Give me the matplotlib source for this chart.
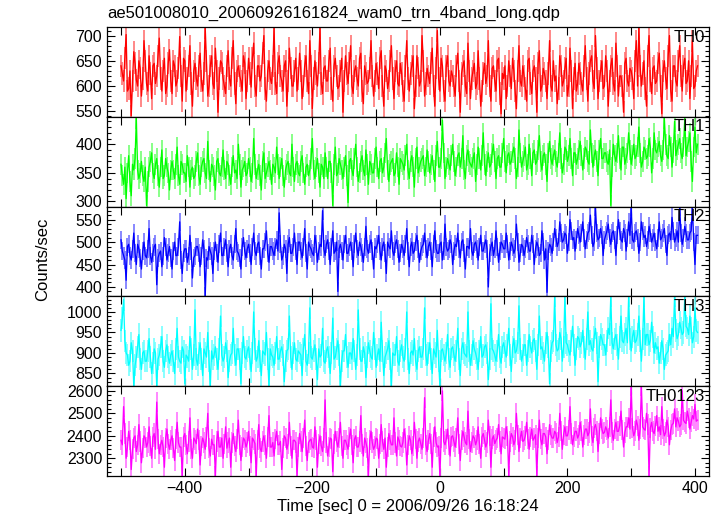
import numpy as np
import matplotlib
matplotlib.use("Agg")
import matplotlib.pyplot as plt
from matplotlib.ticker import MultipleLocator, FuncFormatter

plt.rcParams['font.family'] = ['Liberation Sans', 'DejaVu Sans']

TITLE = "ae501008010_20060926161824_wam0_trn_4band_long.qdp"
XLABEL = "Time [sec] 0 = 2006/09/26 16:18:24"
YLABEL = "Counts/sec"
T_START = -500
T_STEP = 4          # samples of the "a" lists are at T_START + 4*i, "b" lists at T_START + 2 + 4*i

names = ["TH0", "TH1", "TH2", "TH3", "TH0123"]
colors = ["#ff0000", "#00ff00", "#0000ff", "#00ffff", "#ff00ff"]
ylims = [(539, 717), (291, 448), (379, 579), (819, 1038), (2221, 2621)]
ymajor = [50, 50, 50, 50, 100]
yminor = [10, 10, 10, 10, 20]
errs = [22, 18, 20, 27, 45]

th0_a = [
    640, 610, 702, 595, 541, 668, 612, 650, 580, 690,
    605, 660, 575, 645, 620, 695, 590, 655, 600, 672,
    585, 640, 610, 698, 570, 650, 615, 680, 560, 645,
    600, 665, 590, 716, 580, 640, 605, 675, 548, 650,
    615, 585, 670, 600, 690, 565, 640, 610, 660, 575,
    655, 598, 685, 580, 640, 620, 700, 570, 650, 605,
    716, 585, 660, 610, 640, 560, 675, 600, 630, 590,
    665, 575, 640, 610, 690, 555, 650, 600, 716, 585,
    640, 610, 675, 570, 655, 595, 630, 548, 660, 605,
    680, 585, 640, 600, 665, 565, 625, 610, 690, 580,
    645, 595, 670, 560, 630, 610, 680, 575, 650, 600,
    625, 570, 690, 590, 640, 555, 660, 600, 700, 580,
    635, 605, 675, 560, 710, 590, 640, 570, 660, 600,
    620, 580, 665, 548, 640, 600, 685, 575, 630, 595,
    670, 560, 625, 605, 690, 570, 640, 590, 655, 545,
    615, 575, 650, 595, 630, 555, 680, 600, 620, 570,
    655, 585, 640, 548, 670, 600, 625, 575, 690, 590,
    610, 565, 660, 600, 635, 580, 675, 555, 645, 605,
    625, 590, 680, 570, 650, 610, 700, 575, 630, 595,
    660, 560, 640, 605, 685, 580, 620, 548, 655, 600,
    630, 575, 690, 716, 600, 650, 560, 700, 585, 640,
    610, 665, 545, 650, 595, 700, 570, 640, 600, 680,
    590, 655, 610, 575, 690, 600, 640,
]
th0_b = [
    625, 655, 590, 630, 610, 645, 600, 635, 615, 650,
    590, 625, 640, 605, 660, 615, 630, 585, 645, 610,
    650, 600, 635, 620, 655, 590, 640, 605, 630, 615,
    640, 610, 625, 650, 600, 660, 595, 630, 615, 645,
    600, 640, 615, 655, 605, 630, 620, 590, 645, 610,
    625, 655, 600, 640, 610, 665, 595, 630, 615, 640,
    605, 645, 620, 590, 650, 610, 635, 600, 655, 615,
    630, 600, 660, 585, 640, 615, 625, 645, 605, 635,
    610, 650, 595, 640, 620, 600, 655, 610, 625, 645,
    600, 630, 615, 655, 590, 640, 605, 635, 620, 610,
    625, 655, 600, 640, 595, 650, 615, 630, 605, 645,
    590, 640, 615, 625, 660, 600, 635, 610, 650, 605,
    620, 645, 600, 635, 615, 655, 590, 640, 610, 630,
    600, 640, 610, 625, 650, 585, 630, 615, 645, 605,
    615, 590, 645, 620, 600, 635, 610, 650, 585, 625,
    640, 600, 620, 655, 590, 630, 610, 640, 595, 650,
    605, 630, 615, 645, 590, 635, 610, 625, 600, 650,
    620, 595, 640, 610, 655, 600, 630, 615, 590, 645,
    605, 640, 615, 625, 660, 595, 635, 610, 650, 600,
    630, 610, 655, 590, 640, 620, 600, 645, 610, 635,
    615, 650, 600, 640, 625, 595, 660, 610, 635, 605,
    645, 600, 630, 615, 660, 590, 640, 610, 650, 620,
    640, 605, 650, 620, 595, 630,
]

th1_a = [
    365, 330, 305, 380, 310, 355, 445, 340, 370, 335,
    293, 360, 385, 340, 375, 325, 390, 345, 360, 320,
    370, 340, 395, 330, 365, 350, 380, 325, 360, 345,
    385, 330, 370, 350, 405, 335, 360, 320, 375, 345,
    390, 340, 365, 330, 380, 355, 400, 325, 360, 345,
    375, 335, 410, 340, 365, 320, 385, 350, 370, 330,
    360, 395, 340, 375, 325, 365, 350, 400, 335, 370,
    345, 380, 330, 365, 355, 410, 340, 375, 325, 360,
    385, 340, 370, 293, 395, 350, 365, 340, 380, 298,
    375, 345, 400, 335, 370, 355, 390, 330, 365, 350,
    395, 340, 375, 360, 410, 335, 370, 345, 385, 330,
    370, 355, 400, 340, 380, 325, 395, 360, 375, 345,
    390, 350, 380, 335, 405, 360, 442, 340, 375, 355,
    400, 345, 380, 360, 415, 340, 390, 365, 375, 335,
    395, 355, 420, 345, 385, 365, 400, 340, 380, 360,
    410, 350, 385, 370, 395, 340, 425, 360, 380, 355,
    400, 345, 390, 370, 415, 355, 385, 335, 405, 365,
    390, 360, 420, 350, 395, 370, 410, 345, 385, 375,
    405, 355, 395, 370, 425, 360, 390, 345, 410, 375,
    385, 365, 293, 400, 370, 415, 355, 395, 375, 420,
    365, 400, 380, 430, 360, 395, 375, 410, 350, 420,
    385, 405, 370, 445, 380, 415, 360, 440, 390, 410,
    375, 445, 395, 420, 335, 430, 400,
]
th1_b = [
    345, 360, 350, 335, 365, 375, 355, 350, 345, 360,
    335, 370, 350, 365, 345, 360, 340, 375, 350, 355,
    355, 365, 345, 370, 350, 335, 360, 355, 340, 370,
    345, 360, 375, 340, 355, 365, 345, 370, 350, 360,
    355, 370, 345, 360, 350, 340, 365, 355, 370, 350,
    360, 350, 365, 355, 345, 370, 340, 360, 355, 365,
    350, 365, 360, 345, 355, 370, 345, 360, 365, 350,
    370, 350, 360, 345, 375, 355, 360, 350, 365, 340,
    360, 370, 350, 365, 345, 375, 355, 360, 345, 370,
    355, 375, 360, 350, 380, 345, 365, 370, 350, 375,
    360, 370, 350, 385, 355, 365, 375, 350, 360, 375,
    365, 380, 355, 370, 360, 375, 350, 370, 380, 360,
    370, 365, 355, 380, 360, 375, 385, 360, 365, 380,
    370, 360, 385, 375, 355, 380, 370, 360, 385, 365,
    375, 380, 365, 370, 360, 385, 370, 375, 360, 385,
    370, 380, 365, 385, 375, 360, 385, 370, 395, 365,
    375, 385, 365, 390, 370, 380, 365, 385, 375, 380,
    370, 385, 375, 365, 390, 380, 375, 385, 365, 390,
    380, 375, 390, 365, 385, 380, 370, 390, 375, 385,
    370, 390, 360, 380, 385, 375, 395, 365, 385, 390,
    380, 375, 395, 385, 370, 390, 380, 395, 375, 390,
    395, 380, 390, 400, 375, 395, 385, 380, 400, 385,
    395, 380, 405, 370, 395, 385,
]

th2_a = [
    505, 470, 415, 495, 460, 520, 450, 485, 440, 500,
    465, 530, 455, 490, 405, 475, 445, 510, 460, 490,
    440, 500, 470, 545, 430, 485, 455, 515, 420, 470,
    490, 445, 505, 380, 460, 480, 430, 500, 455, 520,
    470, 505, 445, 495, 460, 530, 475, 440, 510, 465,
    495, 450, 520, 470, 500, 440, 485, 525, 455, 490,
    470, 505, 565, 460, 495, 430, 510, 475, 520, 450,
    500, 465, 530, 440, 490, 475, 515, 455, 495, 570,
    470, 505, 450, 525, 480, 390, 495, 460, 515, 475,
    500, 445, 520, 470, 490, 455, 535, 475, 505, 440,
    485, 515, 460, 500, 430, 490, 525, 470, 505, 455,
    495, 470, 530, 445, 500, 480, 515, 455, 490, 520,
    465, 500, 445, 525, 475, 495, 460, 540, 480, 505,
    450, 495, 520, 465, 505, 440, 490, 530, 470, 500,
    460, 515, 480, 505, 400, 490, 470, 525, 455, 500,
    485, 520, 460, 500, 475, 540, 455, 495, 470, 510,
    480, 515, 450, 500, 470, 525, 460, 388, 495, 475,
    530, 490, 545, 500, 520, 475, 550, 505, 480, 530,
    500, 545, 485, 520, 560, 490, 578, 505, 530, 470,
    515, 540, 495, 525, 470, 550, 505, 530, 480, 545,
    578, 500, 525, 475, 545, 510, 490, 535, 500, 520,
    485, 545, 510, 530, 470, 520, 555, 500, 525, 578,
    495, 535, 505, 520, 578, 450, 515,
]
th2_b = [
    480, 460, 490, 470, 485, 475, 495, 465, 480, 470,
    485, 470, 475, 495, 465, 480, 470, 490, 475, 465,
    480, 470, 490, 460, 475, 485, 470, 480, 465, 490,
    475, 470, 485, 465, 490, 470, 480, 475, 495, 470,
    490, 475, 485, 470, 495, 480, 465, 490, 480, 485,
    475, 490, 480, 495, 470, 485, 500, 475, 490, 480,
    490, 480, 495, 470, 485, 495, 475, 490, 480, 500,
    480, 490, 475, 500, 485, 470, 495, 480, 490, 485,
    495, 480, 490, 475, 500, 485, 480, 495, 475, 490,
    480, 495, 485, 500, 475, 490, 485, 495, 480, 490,
    495, 480, 490, 475, 500, 485, 480, 495, 485, 475,
    485, 495, 480, 490, 475, 500, 485, 480, 495, 485,
    490, 480, 495, 485, 475, 500, 480, 490, 485, 495,
    480, 490, 485, 500, 475, 490, 485, 480, 495, 485,
    490, 480, 495, 485, 475, 500, 485, 490, 480, 495,
    485, 495, 480, 490, 485, 500, 475, 490, 485, 495,
    480, 495, 485, 490, 475, 500, 485, 480, 490, 500,
    510, 500, 520, 505, 515, 500, 525, 510, 505, 515,
    520, 510, 505, 525, 515, 500, 520, 510, 515, 505,
    525, 510, 520, 505, 515, 525, 500, 520, 510, 515,
    505, 520, 510, 500, 525, 515, 505, 520, 510, 500,
    510, 505, 520, 495, 515, 505, 525, 510, 500, 520,
    510, 520, 505, 525, 500, 515,
]

th3_a = [
    955, 1030, 900, 870, 925, 819, 890, 945, 860, 905,
    880, 935, 850, 910, 819, 895, 940, 865, 920, 875,
    905, 850, 960, 880, 915, 825, 890, 940, 860, 1005,
    870, 925, 845, 900, 950, 819, 885, 915, 860, 990,
    880, 925, 840, 895, 960, 870, 910, 825, 940, 885,
    915, 855, 1000, 880, 930, 845, 900, 950, 819, 895,
    870, 940, 885, 915, 830, 905, 990, 860, 925, 880,
    900, 845, 945, 870, 1010, 885, 920, 835, 890, 960,
    875, 915, 850, 985, 890, 930, 819, 905, 945, 865,
    900, 935, 860, 1005, 880, 915, 840, 925, 890, 950,
    865, 910, 975, 845, 900, 930, 819, 895, 940, 870,
    920, 880, 1000, 850, 905, 935, 860, 915, 890, 1010,
    870, 925, 850, 900, 955, 819, 910, 880, 945, 865,
    915, 880, 960, 845, 925, 895, 1000, 870, 930, 900,
    860, 940, 895, 920, 835, 1020, 905, 880, 945, 875,
    925, 890, 960, 855, 935, 905, 1015, 880, 920, 870,
    945, 900, 935, 860, 990, 915, 880, 950, 825, 925,
    1038, 905, 950, 880, 1038, 920, 895, 965, 870, 940,
    915, 955, 885, 1000, 930, 905, 960, 830, 945, 920,
    895, 960, 1038, 910, 945, 885, 990, 925, 960, 1038,
    905, 955, 930, 990, 880, 1038, 945, 920, 975, 900,
    910, 875, 930, 860, 900, 945, 960, 1038, 935, 975,
    945, 1038, 960, 990, 925, 1010, 950,
]
th3_b = [
    985, 930, 895, 880, 905, 870, 915, 885, 900, 880,
    905, 890, 875, 900, 885, 915, 880, 905, 890, 895,
    880, 910, 890, 875, 905, 895, 880, 910, 895, 885,
    900, 885, 910, 890, 880, 905, 895, 885, 910, 895,
    890, 905, 880, 900, 895, 910, 885, 900, 890, 905,
    885, 900, 910, 890, 880, 905, 895, 885, 910, 890,
    900, 885, 905, 895, 880, 910, 890, 900, 885, 905,
    895, 910, 880, 900, 890, 905, 885, 910, 895, 880,
    905, 890, 900, 885, 910, 895, 880, 905, 890, 900,
    885, 905, 895, 910, 880, 900, 890, 905, 885, 910,
    895, 880, 905, 890, 910, 885, 900, 895, 880, 905,
    890, 910, 885, 900, 895, 880, 905, 890, 910, 895,
    900, 885, 910, 890, 880, 905, 895, 900, 885, 910,
    895, 905, 885, 910, 900, 890, 905, 895, 910, 885,
    905, 890, 915, 900, 885, 910, 895, 905, 890, 915,
    905, 920, 895, 915, 900, 925, 910, 895, 920, 905,
    915, 930, 905, 920, 910, 900, 925, 915, 905, 930,
    920, 910, 935, 915, 925, 905, 930, 920, 910, 935,
    925, 915, 935, 920, 910, 940, 925, 915, 935, 920,
    930, 945, 925, 935, 920, 940, 930, 945, 925, 935,
    940, 925, 945, 930, 935, 920, 945, 930, 940, 925,
    915, 900, 910, 895, 905, 920, 940, 955, 945, 960,
    950, 965, 945, 960, 940, 955,
]

th0123_a = [
    2380, 2530, 2300, 2420, 2250, 2390, 2330, 2450, 2280, 2400,
    2350, 2440, 2300, 2410, 2550, 2320, 2380, 2260, 2430, 2340,
    2400, 2290, 2460, 2350, 2221, 2410, 2320, 2480, 2300, 2380,
    2430, 2270, 2390, 2340, 2500, 2310, 2360, 2221, 2420, 2350,
    2300, 2440, 2370, 2260, 2410, 2330, 2470, 2290, 2390, 2350,
    2420, 2280, 2380, 2221, 2450, 2330, 2400, 2300, 2490, 2350,
    2310, 2420, 2360, 2250, 2400, 2340, 2460, 2300, 2380, 2221,
    2410, 2330, 2470, 2290, 2380, 2350, 2440, 2260, 2400, 2330,
    2560, 2310, 2390, 2240, 2420, 2350, 2460, 2300, 2380, 2340,
    2430, 2280, 2400, 2350, 2490, 2310, 2370, 2221, 2420, 2340,
    2390, 2300, 2450, 2340, 2260, 2410, 2360, 2480, 2310, 2380,
    2350, 2430, 2270, 2400, 2320, 2460, 2300, 2390, 2340, 2570,
    2330, 2410, 2260, 2440, 2350, 2221, 2600, 2360, 2430, 2310,
    2400, 2350, 2480, 2290, 2420, 2370, 2510, 2330, 2400, 2360,
    2440, 2300, 2410, 2350, 2470, 2260, 2400, 2380, 2450, 2320,
    2390, 2440, 2221, 2410, 2360, 2500, 2330, 2420, 2380, 2460,
    2340, 2430, 2390, 2221, 2470, 2360, 2410, 2320, 2450, 2390,
    2420, 2370, 2500, 2340, 2440, 2400, 2530, 2360, 2420, 2390,
    2460, 2350, 2430, 2400, 2520, 2370, 2450, 2330, 2480, 2410,
    2440, 2390, 2560, 2380, 2460, 2420, 2510, 2350, 2440, 2480,
    2621, 2400, 2470, 2380, 2621, 2430, 2500, 2221, 2460, 2410,
    2490, 2440, 2530, 2400, 2470, 2360, 2450, 2520, 2480, 2440,
    2600, 2460, 2510, 2430, 2490, 2540, 2470,
]
th0123_b = [
    2360, 2410, 2350, 2380, 2340, 2400, 2360, 2375, 2345, 2390,
    2370, 2355, 2395, 2340, 2385, 2360, 2350, 2390, 2365, 2380,
    2345, 2385, 2370, 2350, 2395, 2360, 2375, 2340, 2390, 2365,
    2380, 2355, 2370, 2395, 2345, 2385, 2360, 2375, 2350, 2390,
    2365, 2345, 2390, 2370, 2355, 2385, 2360, 2350, 2380, 2370,
    2355, 2390, 2365, 2380, 2345, 2375, 2360, 2395, 2350, 2370,
    2385, 2360, 2375, 2345, 2390, 2365, 2355, 2380, 2370, 2350,
    2375, 2390, 2355, 2370, 2385, 2345, 2380, 2365, 2355, 2390,
    2370, 2350, 2385, 2365, 2375, 2390, 2355, 2380, 2360, 2395,
    2360, 2385, 2350, 2375, 2365, 2390, 2345, 2380, 2370, 2355,
    2385, 2365, 2375, 2390, 2350, 2380, 2360, 2370, 2395, 2355,
    2370, 2390, 2360, 2380, 2355, 2385, 2375, 2365, 2390, 2360,
    2380, 2365, 2395, 2370, 2355, 2390, 2375, 2385, 2360, 2395,
    2375, 2390, 2365, 2380, 2395, 2360, 2385, 2370, 2390, 2380,
    2365, 2395, 2380, 2370, 2400, 2385, 2365, 2390, 2375, 2395,
    2385, 2400, 2375, 2395, 2380, 2405, 2390, 2375, 2400, 2385,
    2395, 2380, 2405, 2390, 2385, 2410, 2395, 2380, 2405, 2390,
    2410, 2395, 2420, 2405, 2400, 2425, 2410, 2395, 2420, 2405,
    2420, 2405, 2430, 2415, 2400, 2435, 2420, 2410, 2430, 2415,
    2425, 2440, 2415, 2430, 2420, 2445, 2425, 2415, 2440, 2430,
    2435, 2420, 2445, 2430, 2440, 2425, 2450, 2435, 2420, 2445,
    2420, 2405, 2430, 2415, 2440, 2425, 2455, 2440, 2465, 2450,
    2470, 2455, 2480, 2460, 2475, 2465,
]

series_a = [th0_a, th1_a, th2_a, th3_a, th0123_a]
series_b = [th0_b, th1_b, th2_b, th3_b, th0123_b]


def light(c, f=0.45):
    c = np.array(matplotlib.colors.to_rgb(c))
    return tuple(c + (1 - c) * f)


W, H = 719, 516
fig = plt.figure(figsize=(W / 100, H / 100), dpi=100)
left, right = 107 / W, 709 / W
top, bottom = 1 - 27 / H, 1 - 476 / H
ph = (top - bottom) / 5

for i, (name, col, va, vb, yl) in enumerate(zip(names, colors, series_a, series_b, ylims)):
    ax = fig.add_axes([left, top - (i + 1) * ph, right - left, ph])
    a = np.asarray(va, dtype=float)
    b = np.asarray(vb, dtype=float)
    ta = T_START + T_STEP * np.arange(len(a))
    tb = T_START + T_STEP / 2 + T_STEP * np.arange(len(b))
    t = np.concatenate([ta, tb])
    v = np.concatenate([a, b])
    order = np.argsort(t)
    t, v = t[order], v[order]
    ax.vlines(t, v - errs[i], v + errs[i], color=light(col), lw=1.2)
    ax.plot(t, v, color=col, lw=0.95)
    ax.set_xlim(-522, 422)
    ax.set_ylim(*yl)
    ax.yaxis.set_major_locator(MultipleLocator(ymajor[i]))
    ax.yaxis.set_minor_locator(MultipleLocator(yminor[i]))
    ax.xaxis.set_major_locator(MultipleLocator(100))
    ax.tick_params(axis='both', which='both', direction='in', top=True, right=True,
                   labelsize=11.5, colors='black', width=0.8)
    ax.tick_params(axis='both', which='major', length=6)
    ax.tick_params(axis='y', which='minor', length=3)
    for sp in ax.spines.values():
        sp.set_linewidth(0.9)
    ax.text(0.993, 0.97, name, transform=ax.transAxes, ha='right', va='top', fontsize=12)
    if i < 4:
        ax.tick_params(axis='x', labelbottom=False)
    else:
        ax.xaxis.set_major_formatter(FuncFormatter(
            lambda x, p: (f"{int(round(x))}".replace('-', '\u2212') if int(round(x)) % 200 == 0 else "")))
        ax.set_xlabel(XLABEL, fontsize=12, labelpad=2)

fig.text(left + 0.001, 1 - 13 / H, TITLE, ha='left', va='center', fontsize=12)
fig.text(43 / W, 1 - 259 / H, YLABEL, ha='center', va='center', rotation=90, fontsize=12)

fig.savefig("out.png", dpi=100)
